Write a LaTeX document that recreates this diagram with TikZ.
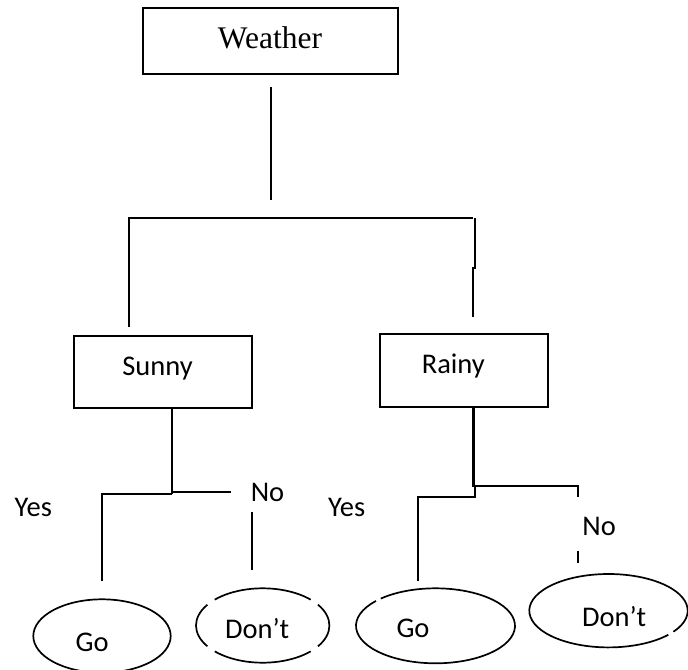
\documentclass[tikz,border=0pt]{standalone}
\usepackage{fontspec}
\setmainfont{Liberation Serif}
\newfontfamily\calfont{Carlito}
\usetikzlibrary{shapes.geometric}
\begin{document}
\begin{tikzpicture}[x=1bp,y=1bp,
  box/.style={draw, line width=2bp, rectangle, inner sep=0pt, outer sep=0pt},
  leaf/.style={ellipse, inner sep=0pt, outer sep=0pt},
  wire/.style={line width=1.7bp},
  serifword/.style={font=\fontsize{31.6}{36}\selectfont, inner sep=0pt, anchor=base},
  sansword/.style={font=\calfont\fontsize{28.6}{33}\selectfont, inner sep=0pt, anchor=base}]
\useasboundingbox (0,0) rectangle (688,-670);
\clip (0,0) rectangle (688,-670);

% decision boxes
\node[box, minimum width=255bp, minimum height=66bp] (weather) at (270,-41.5) {};
\node[serifword] (weatherText) at (270,-48.3) {Weather};
\node[box, minimum width=178bp, minimum height=72bp] (sunny) at (163,-371.5) {};
\node[sansword] (sunnyText) at (157.5,-375) {Sunny};
\node[box, minimum width=168.3bp, minimum height=73.8bp] (rainy) at (464.2,-370.4) {};
\node[sansword] (rainyText) at (453.3,-373.3) {Rainy};

% outcome ellipses
\node[leaf, draw, line width=1.7bp, minimum width=137.4bp, minimum height=73.4bp] (goS) at (102,-636) {};
\node[sansword] (goSText) at (92.2,-651.7) {Go};
\node[leaf, minimum width=133.4bp, minimum height=74.4bp] (dontS) at (262.7,-625.5) {};
\node[sansword] (dontSText) at (257.2,-638.3) {Don’t};
\node[leaf, minimum width=159bp, minimum height=75bp] (goR) at (435.5,-625.8) {};
\node[sansword] (goRText) at (413,-637.3) {Go};
\node[leaf, minimum width=158.4bp, minimum height=73.4bp] (dontR) at (608.5,-610.7) {};
\node[sansword] (dontRText) at (614.2,-626.7) {Don’t};

% branch labels
\node[sansword] (yesS) at (33.3,-516.5) {Yes};
\node[sansword] (noS) at (267.5,-501) {No};
\node[sansword] (yesR) at (346.7,-516) {Yes};
\node[sansword] (noR) at (599.2,-535.7) {No};

% broken outlines of the remaining ellipses
\foreach \a/\b in {44/136, 146/214, 224/316, 326/394}
  \draw[wire] ([shift={(\a:66.7 and 37.2)}]dontS.center) arc[start angle=\a, end angle=\b, x radius=66.7, y radius=37.2];
\draw[wire] ([shift={(138.5:79.5 and 37.5)}]goR.center) arc[start angle=138.5, end angle=493.5, x radius=79.5, y radius=37.5];
\draw[wire] ([shift={(-35:79.2 and 36.7)}]dontR.center) arc[start angle=-35, end angle=319, x radius=79.2, y radius=36.7];

% junction points of the tree
\coordinate (wTop) at (271,-87.3);
\coordinate (wBot) at (271,-200);
\coordinate (barL) at (129,-218.3);
\coordinate (barR) at (473.3,-218.3);
\coordinate (dropL) at (129,-326.7);
\coordinate (dropRTop) at (475,-218.3);
\coordinate (dropRMid) at (475,-268.3);
\coordinate (dropRJog) at (472.7,-268.3);
\coordinate (dropRBot) at (472.7,-316.7);

\coordinate (sStemTop) at (171.7,-407.5);
\coordinate (sStemBot) at (171.7,-494.3);
\coordinate (sYesCorner) at (102.3,-494.3);
\coordinate (sYesEnd) at (102.3,-581);
\coordinate (sNoStart) at (171.7,-492.3);
\coordinate (sNoEnd) at (230.7,-492.3);
\coordinate (sNoDropTop) at (251.7,-512.3);
\coordinate (sNoDropBot) at (251.7,-570);

\coordinate (rStemTop) at (473.3,-407.3);
\coordinate (rStemBot) at (473.3,-486.7);
\coordinate (rNoStart) at (473.3,-485.7);
\coordinate (rNoCorner) at (578.3,-485.7);
\coordinate (rNoEnd) at (578.3,-496.7);
\coordinate (rYesTop) at (475,-485.7);
\coordinate (rYesJoin) at (475,-497.3);
\coordinate (rYesCorner) at (418.3,-497.3);
\coordinate (rYesEnd) at (418.3,-581);
\coordinate (rNoDashTop) at (578.3,-550.7);
\coordinate (rNoDashBot) at (578.3,-562.7);

% connectors
\draw[wire] (wTop) -- (wBot);
\draw[wire] (dropL) -- (barL) -- (barR);
\draw[wire] (dropRTop) -- (dropRMid) -- (dropRJog) -- (dropRBot);

\draw[wire] (sStemTop) -- (sStemBot);
\draw[wire] (sStemBot) -- (sYesCorner) -- (sYesEnd);
\draw[wire] (sNoStart) -- (sNoEnd);
\draw[wire] (sNoDropTop) -- (sNoDropBot);

\draw[line width=2.8bp] (rStemTop) -- (rStemBot);
\draw[wire] (rNoStart) -- (rNoCorner) -- (rNoEnd);
\draw[wire] (rYesTop) -- (rYesJoin) -- (rYesCorner) -- (rYesEnd);
\draw[wire] (rNoDashTop) -- (rNoDashBot);
\end{tikzpicture}
\end{document}
